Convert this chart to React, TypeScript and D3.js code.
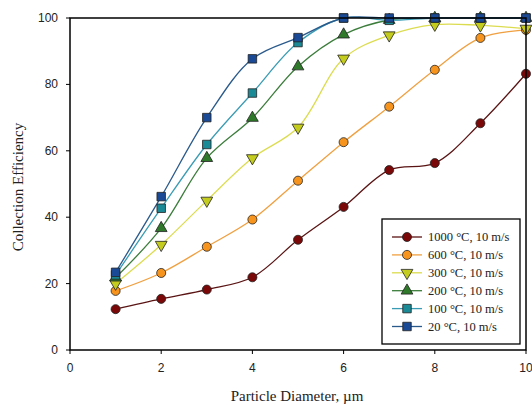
import React from "react";
import * as d3 from "d3";

const WIDTH = 532;
const HEIGHT = 405;
const MARGIN = { top: 18, right: 6, bottom: 55, left: 70 };

const diameters = [1, 2, 3, 4, 5, 6, 7, 8, 9, 10];
const xTicks = [0, 2, 4, 6, 8, 10];
const yTicks = [0, 20, 40, 60, 80, 100];

const eff1000 = [12.3, 15.4, 18.2, 21.9, 33.2, 43.1, 54.2, 56.3, 68.3, 83.2];
const eff600 = [17.8, 23.2, 31.1, 39.3, 51.0, 62.6, 73.3, 84.4, 94.0, 96.4];
const eff300 = [20.0, 31.7, 45.0, 57.8, 67.0, 87.8, 94.8, 98.0, 97.8, 96.8];
const eff200 = [21.8, 36.7, 57.8, 69.9, 85.4, 95.0, 99.4, 100, 100, 100];
const eff100 = [22.6, 42.7, 61.9, 77.4, 92.6, 100, 99.3, 100, 100, 100];
const eff20 = [23.4, 46.2, 70.0, 87.7, 94.1, 100, 100, 100, 100, 100];

const seriesNames = [
  "1000 \u00b0C, 10 m/s",
  "600 \u00b0C, 10 m/s",
  "300 \u00b0C, 10 m/s",
  "200 \u00b0C, 10 m/s",
  "100 \u00b0C, 10 m/s",
  "20 \u00b0C, 10 m/s",
];

const series = [
  { name: seriesNames[0], values: eff1000, line: "#5a1414", fill: "#7a0808", shape: "circle" },
  { name: seriesNames[1], values: eff600, line: "#f0a040", fill: "#f7941d", shape: "circle" },
  { name: seriesNames[2], values: eff300, line: "#dcdc50", fill: "#c4cc1e", shape: "triDown" },
  { name: seriesNames[3], values: eff200, line: "#3c7d3c", fill: "#2f7a2a", shape: "triUp" },
  { name: seriesNames[4], values: eff100, line: "#3a9cb4", fill: "#1a8a96", shape: "square" },
  { name: seriesNames[5], values: eff20, line: "#2a5a8c", fill: "#1a4a96", shape: "square" },
];

const symbolPath = (shape: string) => {
  if (shape === "circle") return d3.symbol(d3.symbolCircle, 64)();
  if (shape === "square") return d3.symbol(d3.symbolSquare, 72)();
  return d3.symbol(d3.symbolTriangle, 60)();
};

const Marker = ({ shape, fill, x, y }: any) => (
  <path
    d={symbolPath(shape) as string}
    transform={`translate(${x},${y})${shape === "triDown" ? " rotate(180)" : ""}`}
    fill={fill}
    stroke="#222"
    strokeWidth={0.8}
  />
);

export default function App() {
  const x = d3
    .scaleLinear()
    .domain([0, 10])
    .range([MARGIN.left, WIDTH - MARGIN.right]);
  const y = d3
    .scaleLinear()
    .domain([0, 100])
    .range([HEIGHT - MARGIN.bottom, MARGIN.top]);

  const lineGen = d3
    .line<number>()
    .x((d, i) => x(diameters[i]))
    .y((d) => y(d))
    .curve(d3.curveCatmullRom.alpha(0.5));

  const legendX = 382;
  const legendY = 219;
  const legendRow = 17.9;

  return (
    <svg
      width={WIDTH}
      height={HEIGHT}
      style={{ position: "absolute", left: 0, top: 0, background: "#fff" }}
    >
      {/* lines */}
      {series.map((s) => (
        <path key={s.name + "l"} d={lineGen(s.values) as string} fill="none" stroke={s.line} strokeWidth={1.3} />
      ))}
      {/* markers */}
      {series.map((s) => (
        <g key={s.name + "m"}>
          {s.values.map((v, i) => (
            <Marker key={i} shape={s.shape} fill={s.fill} x={x(diameters[i])} y={y(v)} />
          ))}
        </g>
      ))}

      {/* frame */}
      <rect
        x={x(0)}
        y={y(100)}
        width={x(10) - x(0)}
        height={y(0) - y(100)}
        fill="none"
        stroke="#000"
        strokeWidth={1.5}
      />

      {/* x axis ticks */}
      {xTicks.map((t) => (
        <g key={"x" + t}>
          <line x1={x(t)} x2={x(t)} y1={y(0)} y2={y(0) + 4} stroke="#000" strokeWidth={1} />
          <text
            x={x(t)}
            y={y(0) + 22}
            textAnchor="middle"
            fontFamily="Liberation Sans, Arial, sans-serif"
            fontSize={12}
            fill="#222"
          >
            {t}
          </text>
        </g>
      ))}
      {/* y axis ticks */}
      {yTicks.map((t) => (
        <g key={"y" + t}>
          <line x1={x(0) - 4} x2={x(0)} y1={y(t)} y2={y(t)} stroke="#000" strokeWidth={1} />
          <text
            x={x(0) - 12}
            y={y(t) + 4}
            textAnchor="end"
            fontFamily="Liberation Sans, Arial, sans-serif"
            fontSize={12}
            fill="#222"
          >
            {t}
          </text>
        </g>
      ))}

      {/* axis titles */}
      <text
        x={297}
        y={HEIGHT - 4}
        textAnchor="middle"
        fontFamily="Liberation Serif, Times New Roman, serif"
        fontSize={15}
        fill="#222"
      >
        Particle Diameter, {"\u00b5"}m
      </text>
      <text
        transform={`translate(23,${(y(0) + y(100)) / 2 + 3}) rotate(-90)`}
        textAnchor="middle"
        fontFamily="Liberation Serif, Times New Roman, serif"
        fontSize={15}
        fill="#222"
      >
        Collection Efficiency
      </text>

      {/* legend */}
      <rect x={legendX} y={legendY} width={138} height={125} fill="#fff" stroke="#000" strokeWidth={1.3} />
      {series.map((s, i) => {
        const cy = legendY + 18 + i * legendRow;
        return (
          <g key={s.name + "leg"}>
            <line x1={legendX + 10} x2={legendX + 40} y1={cy} y2={cy} stroke={s.line} strokeWidth={1.3} />
            <Marker shape={s.shape} fill={s.fill} x={legendX + 25} y={cy} />
            <text
              x={legendX + 46}
              y={cy + 4}
              fontFamily="Liberation Serif, Times New Roman, serif"
              fontSize={12.5}
              fill="#222"
            >
              {s.name}
            </text>
          </g>
        );
      })}
    </svg>
  );
}
